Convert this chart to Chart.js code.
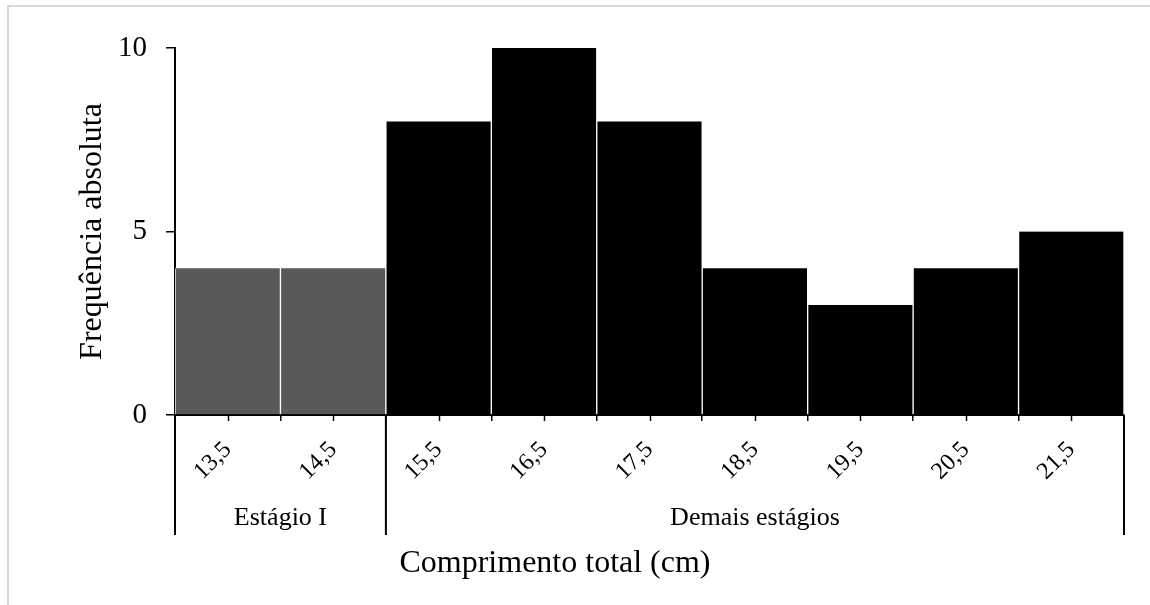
<!DOCTYPE html>
<html>
<head>
<meta charset="utf-8">
<script src="https://cdn.jsdelivr.net/npm/chart.js@4"></script>
<style>
  html, body { margin: 0; padding: 0; background: #fff; }
  #wrap { width: 1150px; height: 605px; }
</style>
</head>
<body>
<div id="wrap"><canvas id="hist"></canvas></div>
<script>
var classes = ['13,5', '14,5', '15,5', '16,5', '17,5', '18,5', '19,5', '20,5', '21,5'];
var counts = [4, 4, 8, 10, 8, 4, 3, 4, 5];
var barColors = ['#595959', '#595959', '#000', '#000', '#000', '#000', '#000', '#000', '#000'];
var yTicks = [0, 5, 10];
var groups = [
  { label: 'Estágio I', from: 0, to: 1 },
  { label: 'Demais estágios', from: 2, to: 8 }
];
var xTitle = 'Comprimento total (cm)';

var serif = '"Liberation Serif", "Times New Roman", serif';

// brackets under the axis, small centre ticks, x title and the frame line
var groupBrackets = {
  id: 'groupBrackets',
  afterDraw: function(chart) {
    var ctx = chart.ctx;
    var x = chart.scales.x;
    var area = chart.chartArea;
    var half = (x.getPixelForValue(1) - x.getPixelForValue(0)) / 2;
    ctx.save();
    ctx.strokeStyle = '#000';
    ctx.lineWidth = 1.5;
    // tick at each class centre
    classes.forEach(function(c, i) {
      var px = Math.round(x.getPixelForValue(i)) + 0.5;
      ctx.beginPath();
      ctx.moveTo(px, area.bottom);
      ctx.lineTo(px, area.bottom + 6);
      ctx.stroke();
    });
    ctx.lineWidth = 2;
    ctx.fillStyle = '#000';
    ctx.textAlign = 'center';
    ctx.textBaseline = 'middle';
    var seps = [];
    groups.forEach(function(g, k) {
      var left = x.getPixelForValue(g.from) - half;
      var right = x.getPixelForValue(g.to) + half;
      if (k === 0) seps.push(left);
      seps.push(right);
      ctx.font = '26px ' + serif;
      ctx.fillText(g.label, (left + right) / 2, area.bottom + 103);
    });
    seps.forEach(function(s) {
      ctx.beginPath();
      ctx.moveTo(s, area.bottom);
      ctx.lineTo(s, area.bottom + 120);
      ctx.stroke();
    });
    // axis title sits left of the plot centre
    ctx.font = '32px ' + serif;
    ctx.fillText(xTitle, 555, area.bottom + 149);
    // outer frame (top and left)
    ctx.strokeStyle = '#d9d9d9';
    ctx.lineWidth = 2;
    ctx.beginPath();
    ctx.moveTo(8, 610);
    ctx.lineTo(8, 6);
    ctx.lineTo(1152, 6);
    ctx.stroke();
    ctx.restore();
  }
};

new Chart(document.getElementById('hist'), {
  type: 'bar',
  data: {
    labels: classes,
    datasets: [{
      label: 'Frequência absoluta',
      data: counts,
      backgroundColor: barColors,
      borderColor: '#fff',
      borderWidth: { left: 1, right: 1, top: 0, bottom: 0 },
      categoryPercentage: 1,
      barPercentage: 1
    }]
  },
  plugins: [groupBrackets],
  options: {
    responsive: true,
    maintainAspectRatio: false,
    animation: false,
    layout: {
      padding: { left: 69, top: 48, right: 26, bottom: 0 }
    },
    plugins: {
      legend: { display: false },
      tooltip: { enabled: false }
    },
    scales: {
      x: {
        afterFit: function(scale) { scale.height = 190; },
        grid: {
          drawOnChartArea: false,
          drawTicks: true,
          tickLength: 6,
          color: '#000',
          lineWidth: 1.5
        },
        border: { display: true, color: '#000', width: 2 },
        ticks: {
          color: '#000',
          font: { family: serif, size: 24 },
          minRotation: 45,
          maxRotation: 45,
          padding: 15
        },
        title: { display: false }
      },
      y: {
        min: 0,
        max: 10,
        afterFit: function(scale) { scale.width = 106; },
        afterBuildTicks: function(scale) {
          scale.ticks = yTicks.map(function(v) { return { value: v }; });
        },
        grid: {
          drawOnChartArea: false,
          drawTicks: true,
          tickLength: 9,
          color: '#000',
          lineWidth: 1.5
        },
        border: { display: true, color: '#000', width: 2 },
        ticks: {
          color: '#000',
          font: { family: serif, size: 29 },
          padding: 19
        },
        title: {
          display: true,
          text: 'Frequência absoluta',
          color: '#000',
          font: { family: serif, size: 32 },
          padding: { top: 4, bottom: 4 }
        }
      }
    }
  }
});
</script>
</body>
</html>
